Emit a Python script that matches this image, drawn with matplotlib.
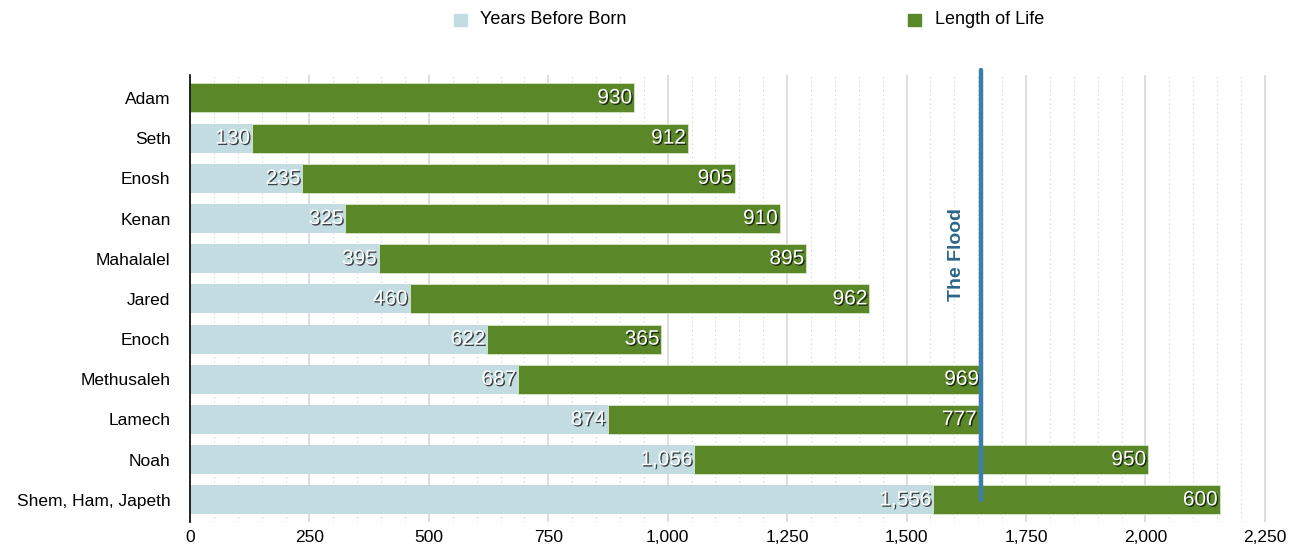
import matplotlib
matplotlib.use("Agg")
import matplotlib.pyplot as plt
import matplotlib.patheffects as pe
from matplotlib.ticker import MultipleLocator, FuncFormatter
from matplotlib.patches import Rectangle

names = ["Adam", "Seth", "Enosh", "Kenan", "Mahalalel", "Jared", "Enoch",
         "Methusaleh", "Lamech", "Noah", "Shem, Ham, Japeth"]
years_before = [0, 130, 235, 325, 395, 460, 622, 687, 874, 1056, 1556]
length_life = [930, 912, 905, 910, 895, 962, 365, 969, 777, 950, 600]
flood_year = 1656

plt.rcParams['font.family'] = ['Liberation Sans', 'DejaVu Sans']

fig = plt.figure(figsize=(12.98, 5.47), dpi=100)
ax = fig.add_axes([190/1298, 1-522/547, (1272-190)/1298, (522-75)/547])

c_before = "#c3dce2"
c_life = "#5a8829"
y = list(range(len(names)))
h = 0.72
ax.barh(y, years_before, height=h, color=c_before, label="Years Before Born", zorder=2)
ax.barh(y, length_life, left=years_before, height=h, color=c_life,
        edgecolor="#d8e6c8", linewidth=0.6, label="Length of Life", zorder=2)

shadow = [pe.SimplePatchShadow(offset=(1, -1), shadow_rgbFace="black", alpha=0.7), pe.Normal()]
for i, (b, l) in enumerate(zip(years_before, length_life)):
    if b > 0:
        ax.text(b - 4, i, f"{b:,}", ha="right", va="center", color="white",
                fontsize=15, path_effects=shadow, zorder=4)
    ax.text(b + l - 4, i, f"{l:,}", ha="right", va="center", color="white",
            fontsize=15, path_effects=shadow, zorder=4)

ax.set_xlim(0, 2265)
ax.set_ylim(len(names) - 1 + 0.55, -0.57)
ax.set_yticks(y)
ax.set_yticklabels(names, fontsize=12.5)
ax.xaxis.set_major_locator(MultipleLocator(250))
ax.xaxis.set_minor_locator(MultipleLocator(50))
ax.xaxis.set_major_formatter(FuncFormatter(lambda v, p: f"{int(v):,}"))
ax.tick_params(axis="x", labelsize=12.5, length=0, which="both", pad=6)
ax.tick_params(axis="y", length=0, pad=14)
ax.grid(axis="x", which="major", color="#d8d8d8", linewidth=1.2, zorder=0)
ax.grid(axis="x", which="minor", color="#cccccc", linewidth=0.8, linestyle=(0, (1, 3)), zorder=0)
ax.set_axisbelow(True)
for s in ["top", "right", "bottom"]:
    ax.spines[s].set_visible(False)
ax.spines["left"].set_color("black")
ax.spines["left"].set_linewidth(1.2)

ax.plot([flood_year, flood_year], [-0.7, len(names) - 1], color="#3a7eab",
        linewidth=3.2, zorder=5, clip_on=False, solid_capstyle="round")
ax.text(flood_year - 52, 3.9, "The Flood", rotation=90, ha="center", va="center",
        fontsize=14, fontweight="bold", color="#2c6688", zorder=5)

# legend
fig.patches.append(Rectangle((454/1298, 1-26/547), 13/1298, 12/547, transform=fig.transFigure,
                             color=c_before))
fig.text(480/1298, 1-20/547, "Years Before Born", fontsize=13, va="center", ha="left")
fig.patches.append(Rectangle((908/1298, 1-26/547), 13/1298, 12/547, transform=fig.transFigure,
                             color=c_life))
fig.text(935/1298, 1-20/547, "Length of Life", fontsize=13, va="center", ha="left")

fig.savefig("out.png", dpi=100)
